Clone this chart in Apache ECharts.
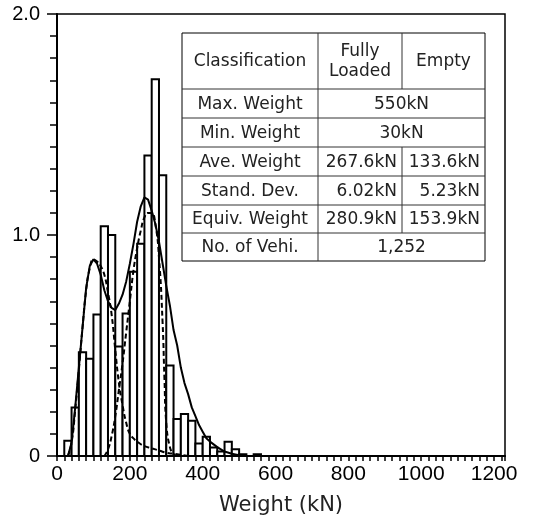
<!DOCTYPE html>
<html>
<head>
<meta charset="utf-8">
<title>Weight distribution</title>
<style>
    html,body{margin:0;padding:0;width:100%;height:100%;overflow:hidden;background:#fff;}
    #main{width:537px;height:528px;}
</style>
<script src="https://cdn.jsdelivr.net/npm/echarts@6/dist/echarts.min.js"></script>
</head>
<body>
<div id="main"></div>
<script type="text/javascript">

// histogram bins (kN), 20 kN wide
var binWidth = 20;
var binStarts = [20,40,60,80,100,120,140,160,180,200,220,240,260,280,300,320,340,360,380,400,420,440,460,480,500,520,540];
var binValues = [0.069,0.22,0.47,0.44,0.64,1.04,1.0,0.495,0.645,0.834,0.96,1.36,1.705,1.27,0.41,0.167,0.19,0.16,0.057,0.087,0.039,0.02,0.065,0.03,0.008,0,0.008];

// solid curve (all vehicles)
var allX = [30,40,50,60,70,80,90,100,110,120,130,140,150,160,170,180,190,200,210,220,230,240,250,260,270,280,290,300,310,320,330,340,350,360,370,380,390,400,410,420,440,460,480,500,520];
var allY = [0,0.06,0.22,0.40,0.58,0.76,0.86,0.89,0.87,0.82,0.75,0.70,0.67,0.66,0.69,0.73,0.79,0.87,0.96,1.06,1.13,1.17,1.16,1.11,1.05,0.97,0.87,0.77,0.68,0.57,0.50,0.40,0.33,0.28,0.22,0.18,0.14,0.11,0.08,0.065,0.04,0.02,0.01,0.004,0];

// dashed curve, empty vehicles
var emptyX = [30,40,50,60,70,80,90,100,110,120,130,140,150,160,170,180,190,200,210,220,240,260,280,300,320,340,360];
var emptyY = [0,0.06,0.21,0.39,0.58,0.75,0.85,0.89,0.88,0.86,0.82,0.74,0.64,0.48,0.33,0.23,0.15,0.10,0.08,0.065,0.045,0.035,0.025,0.015,0.01,0.005,0];

// dashed curve, fully loaded vehicles
var loadedX = [130,140,150,160,170,180,190,200,210,220,230,240,250,260,270,280,290,295,300,310,320,330];
var loadedY = [0,0.03,0.09,0.18,0.30,0.42,0.56,0.70,0.84,0.94,1.02,1.08,1.10,1.10,1.05,0.90,0.60,0.35,0.15,0.04,0.01,0];

// table contents
var tableHead = ['Classification', 'Fully\nLoaded', 'Empty'];
var tableRows = [
    ['Max. Weight', '550kN'],
    ['Min. Weight', '30kN'],
    ['Ave. Weight', '267.6kN', '133.6kN'],
    ['Stand. Dev.', '6.02kN', '5.23kN'],
    ['Equiv. Weight', '280.9kN', '153.9kN'],
    ['No. of Vehi.', '1,252']
];

function pairs(xs, ys){
    var out = [];
    for (var i = 0; i < xs.length; i++) out.push([xs[i], ys[i]]);
    return out;
}

var histData = [];
for (var i = 0; i < binStarts.length; i++) {
    histData.push([binStarts[i], binStarts[i] + binWidth, binValues[i]]);
}

// table layout
var colX = [182, 318, 402, 485];
var rowY = [33, 89, 118, 147, 176, 205, 233, 261];
var tFont = '17px "DejaVu Sans"';
var tColor = '#222';

var graphics = [];
graphics.push({type:'rect', z:100, shape:{x:colX[0], y:rowY[0], width:colX[3]-colX[0], height:rowY[7]-rowY[0]},
    style:{fill:'#fff', stroke:'#000', lineWidth:1}});
for (var r = 1; r < rowY.length - 1; r++) {
    graphics.push({type:'line', z:101, shape:{x1:colX[0], y1:rowY[r], x2:colX[3], y2:rowY[r]}, style:{stroke:'#333', lineWidth:1}});
}
graphics.push({type:'line', z:101, shape:{x1:colX[1], y1:rowY[0], x2:colX[1], y2:rowY[7]}, style:{stroke:'#333', lineWidth:1}});
graphics.push({type:'line', z:101, shape:{x1:colX[2], y1:rowY[0], x2:colX[2], y2:rowY[1]}, style:{stroke:'#333', lineWidth:1}});
graphics.push({type:'line', z:101, shape:{x1:colX[2], y1:rowY[3], x2:colX[2], y2:rowY[6]}, style:{stroke:'#333', lineWidth:1}});

function cellText(txt, x, y, align){
    graphics.push({type:'text', z:102, x:x, y:y,
        style:{text:txt, font:tFont, fill:tColor, align:align, verticalAlign:'middle', lineHeight:20}});
}
for (var c = 0; c < 3; c++) {
    cellText(tableHead[c], (colX[c] + colX[c+1]) / 2, (rowY[0] + rowY[1]) / 2 + 1, 'center');
}
for (var r = 0; r < tableRows.length; r++) {
    var row = tableRows[r];
    var yc = (rowY[r+1] + rowY[r+2]) / 2 + 1;
    cellText(row[0], (colX[0] + colX[1]) / 2, yc, 'center');
    if (row.length === 2) {
        cellText(row[1], (colX[1] + colX[3]) / 2, yc, 'center');
    } else {
        cellText(row[1], colX[2] - 5, yc, 'right');
        cellText(row[2], colX[3] - 5, yc, 'right');
    }
}

var myChart = echarts.init(document.getElementById('main'), null, {renderer:'canvas'});

var option = {
    animation: false,
    backgroundColor: '#fff',
    grid: {left:57, right:32, top:14, bottom:72, show:true, borderColor:'#000', borderWidth:1.5},
    xAxis: {
        type: 'value', min: 0, max: 1230, interval: 20,
        name: 'Weight (kN)', nameLocation: 'middle', nameGap: 39,
        nameTextStyle: {fontFamily:'DejaVu Sans', fontSize:21, color:'#222'},
        axisLine: {lineStyle:{color:'#000', width:2}},
        axisTick: {length:5, lineStyle:{color:'#000', width:1.5}},
        axisLabel: {
            interval: 0, margin: 8, fontFamily:'Liberation Sans', fontSize:21, color:'#000',
            formatter: function(v){ return (v % 200 === 0 && v <= 1200) ? String(v) : ''; }
        },
        splitLine: {show:false}
    },
    yAxis: {
        type: 'value', min: 0, max: 2, interval: 1,
        axisLine: {show:true, lineStyle:{color:'#000', width:2}},
        axisTick: {show:true, length:10, lineStyle:{color:'#000', width:1.5}},
        minorTick: {show:true, splitNumber:10, length:7, lineStyle:{color:'#000', width:1.5}},
        axisLabel: {
            margin: 17, fontFamily:'Liberation Sans', fontSize:20, color:'#000',
            formatter: function(v){ return v === 0 ? '0' : v.toFixed(1); }
        },
        splitLine: {show:false}
    },
    graphic: graphics,
    series: [
        {
            type: 'custom',
            data: histData,
            encode: {x:[0,1], y:2},
            renderItem: function(params, api){
                var p0 = api.coord([api.value(0), api.value(2)]);
                var p1 = api.coord([api.value(1), 0]);
                return {type:'rect', shape:{x:p0[0], y:p0[1], width:p1[0]-p0[0], height:p1[1]-p0[1]},
                    style:{fill:'#fff', stroke:'#000', lineWidth:2}};
            },
            z: 2
        },
        {
            type: 'line', data: pairs(allX, allY), showSymbol: false, smooth: false,
            lineStyle: {color:'#000', width:2}, z: 5
        },
        {
            type: 'line', data: pairs(emptyX, emptyY), showSymbol: false, smooth: true,
            lineStyle: {color:'#000', width:2, type:[5,3]}, z: 4
        },
        {
            type: 'line', data: pairs(loadedX, loadedY), showSymbol: false, smooth: true,
            lineStyle: {color:'#000', width:2, type:[5,3]}, z: 4
        }
    ]
};
myChart.setOption(option);

</script>
</body>
</html>
